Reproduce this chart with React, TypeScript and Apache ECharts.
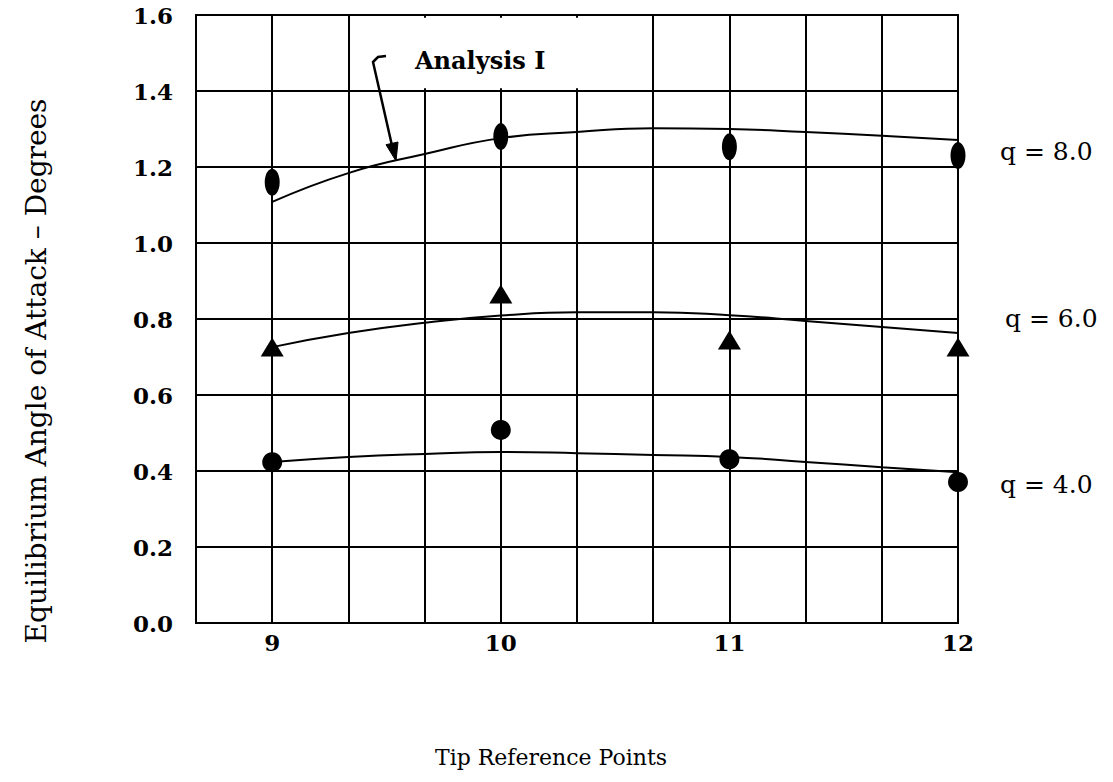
import React, { useEffect, useRef } from "react";
import * as echarts from "echarts";

// Measured points (Tip reference points vs equilibrium angle of attack)
const tipPoints = [9, 10, 11, 12];
const q8Measured = [1.16, 1.28, 1.253, 1.23];
const q6Measured = [0.726, 0.866, 0.745, 0.726];
const q4Measured = [0.423, 0.508, 0.431, 0.371];

// Analysis I curves
const curveX = [9, 9.333, 9.667, 10, 10.333, 10.667, 11, 11.333, 11.667, 12];
const q8Curve = [1.108, 1.184, 1.234, 1.276, 1.292, 1.302, 1.3, 1.292, 1.282, 1.271];
const q6Curve = [0.726, 0.763, 0.79, 0.809, 0.818, 0.818, 0.81, 0.795, 0.779, 0.763];
const q4Curve = [0.424, 0.437, 0.445, 0.45, 0.447, 0.442, 0.437, 0.424, 0.41, 0.397];

const curveLabels = ["q = 8.0", "q = 6.0", "q = 4.0"];
const yTitle = "Equilibrium Angle of Attack \u2013 Degrees";
const xTitle = "Tip Reference Points";
const annotation = "Analysis I";

const SERIF = "'DejaVu Serif', serif";

export default function App() {
  const ref = useRef<HTMLDivElement>(null);
  useEffect(() => {
    if (!ref.current) return;
    const chart = echarts.init(ref.current, undefined, { renderer: "svg" });
    const pair = (xs: number[], ys: number[]) => xs.map((x, i) => [x, ys[i]]);
    const curveStyle = { color: "#000", width: 2 };
    const markerStyle = { color: "#000", opacity: 1 };
    const option: any = {
      animation: false,
      backgroundColor: "#fff",
      grid: {
        left: 196,
        top: 15,
        right: 155,
        bottom: 159,
        show: true,
        borderColor: "#000",
        borderWidth: 2,
      },
      xAxis: {
        type: "value",
        min: 26 / 3,
        max: 12,
        interval: 1 / 3,
        axisLine: { show: true, lineStyle: { color: "#000", width: 2 } },
        axisTick: { show: false },
        splitLine: { show: true, lineStyle: { color: "#000", width: 2 } },
        axisLabel: {
          margin: 8,
          color: "#000",
          fontFamily: SERIF,
          fontWeight: "bold",
          fontSize: 23,
          formatter: (v: number) => {
            const r = Math.round(v);
            return Math.abs(v - r) < 1e-6 ? String(r) : "";
          },
        },
      },
      yAxis: {
        type: "value",
        min: 0,
        max: 1.6,
        interval: 0.2,
        axisLine: { show: true, lineStyle: { color: "#000", width: 2 } },
        axisTick: { show: false },
        splitLine: { show: true, lineStyle: { color: "#000", width: 2 } },
        axisLabel: {
          margin: 23,
          color: "#000",
          fontFamily: SERIF,
          fontWeight: "bold",
          fontSize: 23,
          formatter: (v: number) => v.toFixed(1),
        },
      },
      series: [
        {
          type: "line",
          data: pair(curveX, q8Curve),
          smooth: true,
          showSymbol: false,
          lineStyle: curveStyle,
          markArea: {
            silent: true,
            itemStyle: { color: "#fff", opacity: 1 },
            label: { show: false },
            data: [[{ coord: [28 / 3 + 0.012, 1.4 + 0.007] }, { coord: [32 / 3 - 0.012, 1.6 - 0.007] }]],
          },
        },
        { type: "line", data: pair(curveX, q6Curve), smooth: true, showSymbol: false, lineStyle: curveStyle },
        { type: "line", data: pair(curveX, q4Curve), smooth: true, showSymbol: false, lineStyle: curveStyle },
        {
          type: "scatter",
          data: pair(tipPoints, q8Measured),
          symbol: "circle",
          symbolSize: [15, 27],
          itemStyle: markerStyle,
          z: 5,
        },
        {
          type: "scatter",
          data: pair(tipPoints, q6Measured),
          symbol: "triangle",
          symbolSize: [23, 19],
          itemStyle: markerStyle,
          z: 5,
        },
        {
          type: "scatter",
          data: pair(tipPoints, q4Measured),
          symbol: "circle",
          symbolSize: 20,
          itemStyle: markerStyle,
          z: 5,
        },
      ],
      graphic: [
        {
          type: "text",
          x: 36,
          y: 371,
          z: 100,
          rotation: Math.PI / 2,
          style: { text: yTitle, font: `28px ${SERIF}`, fill: "#000", align: "center", verticalAlign: "middle" },
        },
        {
          type: "text",
          x: 551,
          y: 757,
          z: 100,
          style: { text: xTitle, font: `22px ${SERIF}`, fill: "#000", align: "center", verticalAlign: "middle" },
        },
        {
          type: "text",
          x: 415,
          y: 60,
          z: 100,
          style: { text: annotation, font: `bold 24px ${SERIF}`, fill: "#000", align: "left", verticalAlign: "middle" },
        },
        {
          type: "text",
          x: 1000,
          y: 151,
          z: 100,
          style: { text: curveLabels[0], font: `25px ${SERIF}`, fill: "#000", align: "left", verticalAlign: "middle" },
        },
        {
          type: "text",
          x: 1005,
          y: 318,
          z: 100,
          style: { text: curveLabels[1], font: `25px ${SERIF}`, fill: "#000", align: "left", verticalAlign: "middle" },
        },
        {
          type: "text",
          x: 1000,
          y: 484,
          z: 100,
          style: { text: curveLabels[2], font: `25px ${SERIF}`, fill: "#000", align: "left", verticalAlign: "middle" },
        },
        {
          type: "polyline",
          z: 100,
          shape: { points: [[386, 56], [378, 57], [373, 62], [393, 150]] },
          style: { stroke: "#000", lineWidth: 2.5, fill: null },
        },
        {
          type: "polygon",
          z: 100,
          shape: { points: [[386, 144.7], [398, 142], [396, 161]] },
          style: { fill: "#000", stroke: "#000", lineWidth: 1 },
        },
      ],
    };
    chart.setOption(option);
    return () => chart.dispose();
  }, []);
  return (
    <div
      ref={ref}
      style={{ position: "absolute", left: 0, top: 0, width: 1113, height: 782, background: "#fff" }}
    />
  );
}
